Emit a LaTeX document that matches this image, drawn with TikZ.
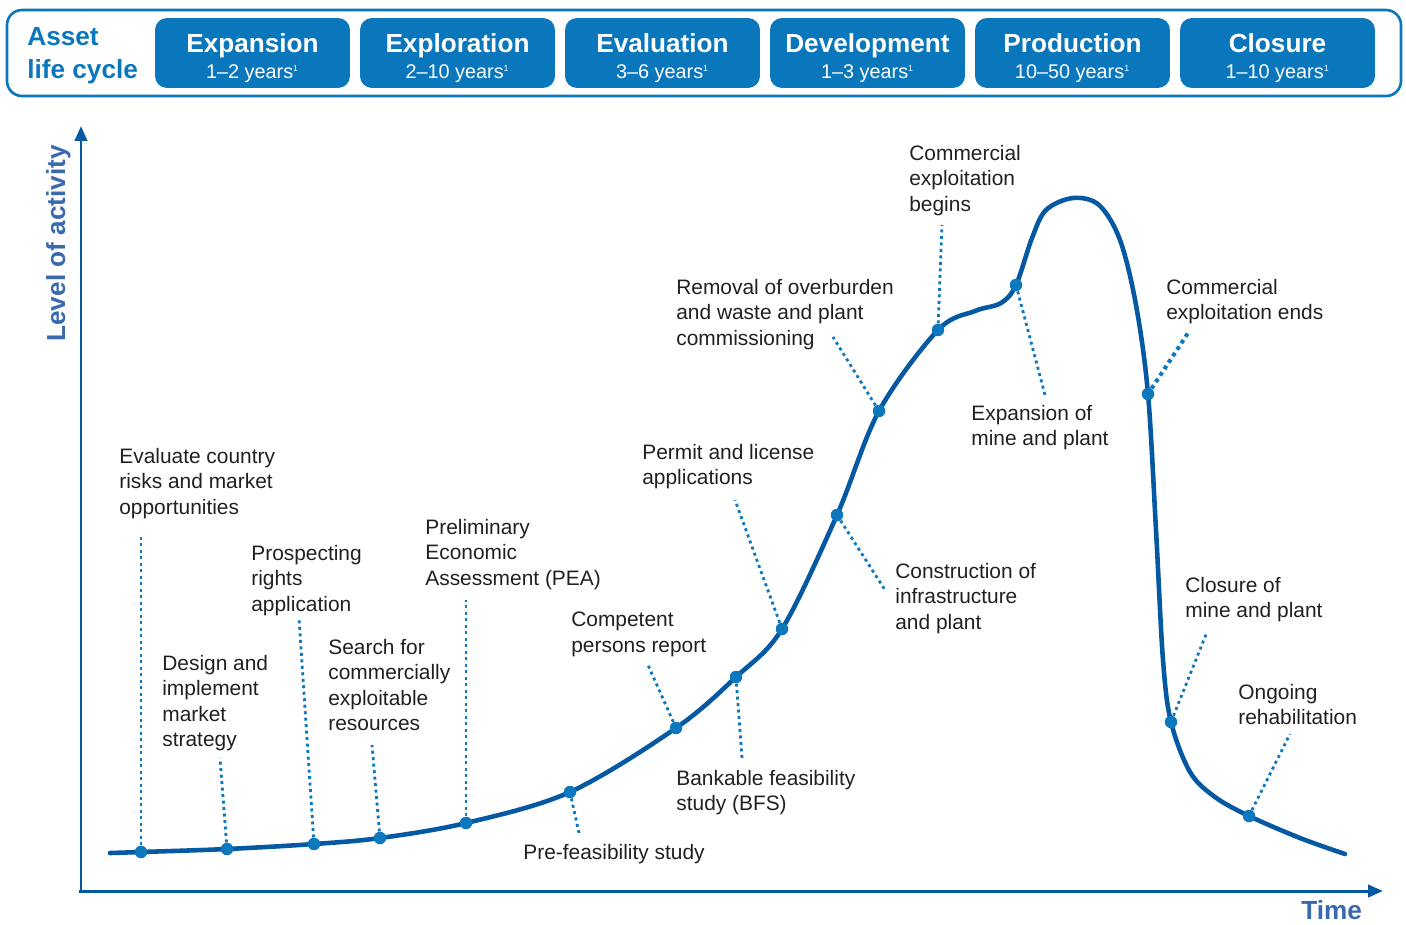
\documentclass[tikz,border=0pt]{standalone}
\usepackage{fontspec}
\setmainfont{Liberation Sans}
\usepackage{tikz}
\usetikzlibrary{arrows.meta, positioning}
\definecolor{boxblue}{RGB}{10,119,189}
\definecolor{curveblue}{RGB}{5,88,162}
\definecolor{dotblue}{RGB}{12,121,191}
\definecolor{axistext}{RGB}{58,105,176}
\definecolor{inkgray}{RGB}{35,31,32}
\newcommand{\labelfont}{\fontsize{11.9}{14.4}\selectfont}
\newcommand{\headfont}{\fontsize{14.9}{17}\selectfont\bfseries}
\newcommand{\yearfont}{\fontsize{11.3}{13}\selectfont}
\tikzset{%
	phasebox/.style={
		fill=boxblue,
		rounded corners=0.24cm,
		minimum width=3.9cm,
		minimum height=1.4cm,
		inner sep=0
	},
	milestone/.style={
		circle,
		fill=dotblue,
		inner sep=0,
		minimum size=0.25cm
	},
	leader/.style={
		draw=dotblue,
		line width=1.6pt,
		dash pattern=on 1.7pt off 2pt
	},
	note/.style={
		anchor=north west,
		inner sep=0,
		align=left,
		text=inkgray,
		font=\labelfont
	},
}

\begin{document}
\begin{tikzpicture}[x=0.02cm, y=-0.02cm]
	\useasboundingbox (0,0) rectangle (1406,924);

	% Header band
	\draw[boxblue, line width=1.5pt, rounded corners=0.3cm] (7,10) rectangle (1401,96);
	\node[anchor=base west, inner sep=0, text=boxblue, font=\headfont] (asset) at (27,45) {Asset};
	\node[anchor=base west, inner sep=0, text=boxblue, font=\headfont] (cycle) at (27,78) {life cycle};

	\foreach \phase/\yrs [count=\i] in {Expansion/1--2, Exploration/2--10, Evaluation/3--6, Development/1--3, Production/10--50, Closure/1--10}{
		\node[phasebox] (ph\i) at (252.5+205*\i-205,53) {};
		\node[anchor=base, inner sep=0, text=white, font=\headfont] at (252.5+205*\i-205,52) {\phase};
		\node[anchor=base, inner sep=0, text=white, font=\yearfont] at (252.5+205*\i-205,78) {\yrs{} years\textsuperscript{\tiny 1}};
	}

	% Axes
	\coordinate (O) at (81,891);
	\coordinate (ytop) at (81,126);
	\coordinate (xend) at (1383,891);
	\draw[curveblue, line width=1.7pt, -{Triangle[length=8.5pt,width=7pt]}] ([yshift=-1pt]O) -- (ytop);
	\draw[curveblue, line width=1.7pt, -{Triangle[length=8.5pt,width=7pt]}] ([xshift=-1pt]O) -- (xend);
	\node[rotate=90, anchor=base west, inner sep=0, text=axistext, font=\headfont] (ylab) at (65,342) {Level of activity};
	\node[anchor=base west, inner sep=0, text=axistext, font=\headfont] (xlab) at (1301,919) {Time};

	% Activity curve
	\draw[curveblue, line width=2.6pt, line cap=round] plot[smooth, tension=0.55] coordinates {
		(110,853) (141,852) (227,849) (314,844) (380,838) (466,823) (570,792)
		(676,728) (736,677) (782,629) (837,515) (879,411) (938,330)
		(975,311) (1001,303) (1016,285) (1032,238) (1046,210) (1073,198)
		(1099,205) (1120,240) (1136,305) (1148,394) (1156,530) (1163,660)
		(1171,722) (1190,772) (1215,797) (1249,816) (1300,838) (1345,854)};

	% Milestones
	\node[milestone] (m1) at (141,852) {};
	\node[milestone] (m2) at (227,849) {};
	\node[milestone] (m3) at (314,844) {};
	\node[milestone] (m4) at (380,838) {};
	\node[milestone] (m5) at (466,823) {};
	\node[milestone] (m6) at (570,792) {};
	\node[milestone] (m7) at (676,728) {};
	\node[milestone] (m8) at (736,677) {};
	\node[milestone] (m9) at (782,629) {};
	\node[milestone] (m10) at (837,515) {};
	\node[milestone] (m11) at (879,411) {};
	\node[milestone] (m12) at (938,330) {};
	\node[milestone] (m13) at (1016,285) {};
	\node[milestone] (m14) at (1148,394) {};
	\node[milestone] (m15) at (1171,722) {};
	\node[milestone] (m16) at (1249,816) {};

	% Labels
	\node[note] (t1) at (119,448) {Evaluate country\\risks and market\\opportunities};
	\node[note] (t2) at (162,655) {Design and\\implement\\market\\strategy};
	\node[note] (t3) at (251,545) {Prospecting\\rights\\application};
	\node[note] (t4) at (328,639) {Search for\\commercially\\exploitable\\resources};
	\node[note] (t5) at (425,519) {Preliminary\\Economic\\Assessment (PEA)};
	\node[note] (t6) at (523,844) {Pre-feasibility study};
	\node[note] (t7) at (571,612) {Competent\\persons report};
	\node[note] (t8) at (676,770) {Bankable feasibility\\study (BFS)};
	\node[note] (t9) at (642,444) {Permit and license\\applications};
	\node[note] (t10) at (895,563) {Construction of\\infrastructure\\and plant};
	\node[note] (t11) at (676,279) {Removal of overburden\\and waste and plant\\commissioning};
	\node[note] (t12) at (909,145) {Commercial\\exploitation\\begins};
	\node[note] (t13) at (971,405) {Expansion of\\mine and plant};
	\node[note] (t14) at (1166,279) {Commercial\\exploitation ends};
	\node[note] (t15) at (1185,577) {Closure of\\mine and plant};
	\node[note] (t16) at (1238,684) {Ongoing\\rehabilitation};

	% Leader ends
	\coordinate (e1) at (141,535);
	\coordinate (e2) at (220,758);
	\coordinate (e3) at (299,618);
	\coordinate (e4) at (372,745);
	\coordinate (e5) at (466,600);
	\coordinate (e6) at (579,833);
	\coordinate (e7) at (648,665);
	\coordinate (e8) at (742,758);
	\coordinate (e9) at (735,500);
	\coordinate (e10) at (885,590);
	\coordinate (e11) at (833,337);
	\coordinate (e12) at (942,225);
	\coordinate (e13) at (1045,395);
	\coordinate (e14) at (1188,333);
	\coordinate (e15) at (1207,632);
	\coordinate (e16) at (1290,734);

	\foreach \i in {1,...,13,15,16}
		\draw[leader] (m\i) -- (e\i);
	\draw[leader, line width=2.3pt, dash pattern=on 2.2pt off 2.2pt] (m14) -- (e14);
\end{tikzpicture}
\end{document}
